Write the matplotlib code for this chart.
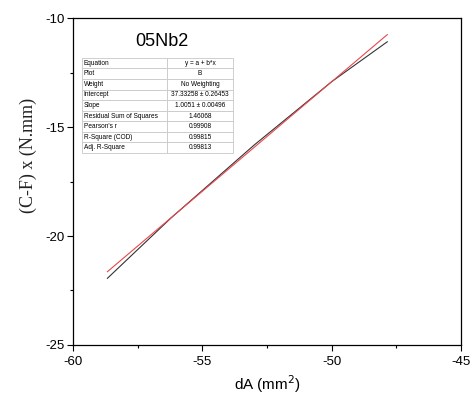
import numpy as np
import matplotlib.pyplot as plt
from matplotlib.ticker import MultipleLocator

plt.rcParams['axes.unicode_minus'] = False

# data line (black) and linear fit (red)
dA = [-58.67, -56.2, -53.0, -50.0, -47.85]
cf = [-21.94, -19.16, -15.83, -12.92, -11.09]
intercept = 37.33258
slope = 1.0051
fit_x = [-58.67, -47.85]

labels = ['Equation', 'Plot', 'Weight', 'Intercept', 'Slope',
          'Residual Sum of Squares', "Pearson's r", 'R-Square (COD)', 'Adj. R-Square']
values = ['y = a + b*x', 'B', 'No Weighting', '37.33258 \u00b1 0.26453', '1.0051 \u00b1 0.00496',
          '1.46068', '0.99908', '0.99815', '0.99813']

fig = plt.figure(figsize=(4.72, 3.96), dpi=100)
ax = fig.add_axes([0.1547, 0.1288, 0.822, 0.8257])

fx = np.array(fit_x)
ax.plot(dA, cf, color='#333333', lw=0.8)
ax.plot(fx, intercept + slope * fx, color='#e8474c', lw=0.8)

ax.set_xlim(-60, -45)
ax.set_ylim(-25, -10)
ax.xaxis.set_major_locator(MultipleLocator(5))
ax.yaxis.set_major_locator(MultipleLocator(5))
ax.xaxis.set_minor_locator(MultipleLocator(2.5))
ax.yaxis.set_minor_locator(MultipleLocator(2.5))
ax.tick_params(which='both', direction='out', top=False, right=False, width=0.8)
ax.tick_params(which='major', length=4, labelsize=9.5, pad=2)
ax.tick_params(axis='x', which='major', pad=4)
ax.tick_params(which='minor', length=2.5)
for lab in ax.get_xticklabels() + ax.get_yticklabels():
    lab.set_fontfamily('Liberation Sans')
for s in ax.spines.values():
    s.set_linewidth(0.9)

ax.set_xlabel('dA (mm$^2$)', fontsize=11, family='Liberation Sans', labelpad=4)
ax.set_ylabel('(C-F) x (N.mm)', fontsize=13, family='Liberation Serif', color='#222222')
ax.yaxis.set_label_coords(-0.092, 0.58)

ax.text(0.229, 0.927, '05Nb2', transform=ax.transAxes, ha='center', va='center',
        fontsize=13, family='Liberation Sans')

tab = ax.table(cellText=[[a, b] for a, b in zip(labels, values)],
               bbox=[0.0232, 0.587, 0.389, 0.291], colWidths=[0.563, 0.437])
tab.auto_set_font_size(False)
for (r, c), cell in tab.get_celld().items():
    cell.set_edgecolor('#c8c8c8')
    cell.set_linewidth(0.6)
    cell.get_text().set_fontsize(4.7)
    cell.get_text().set_fontfamily('Liberation Sans')
    if c == 0:
        cell.get_text().set_ha('left')
        cell.PAD = 0.02
    else:
        cell.get_text().set_ha('center')

fig.savefig('out.png', dpi=100)
